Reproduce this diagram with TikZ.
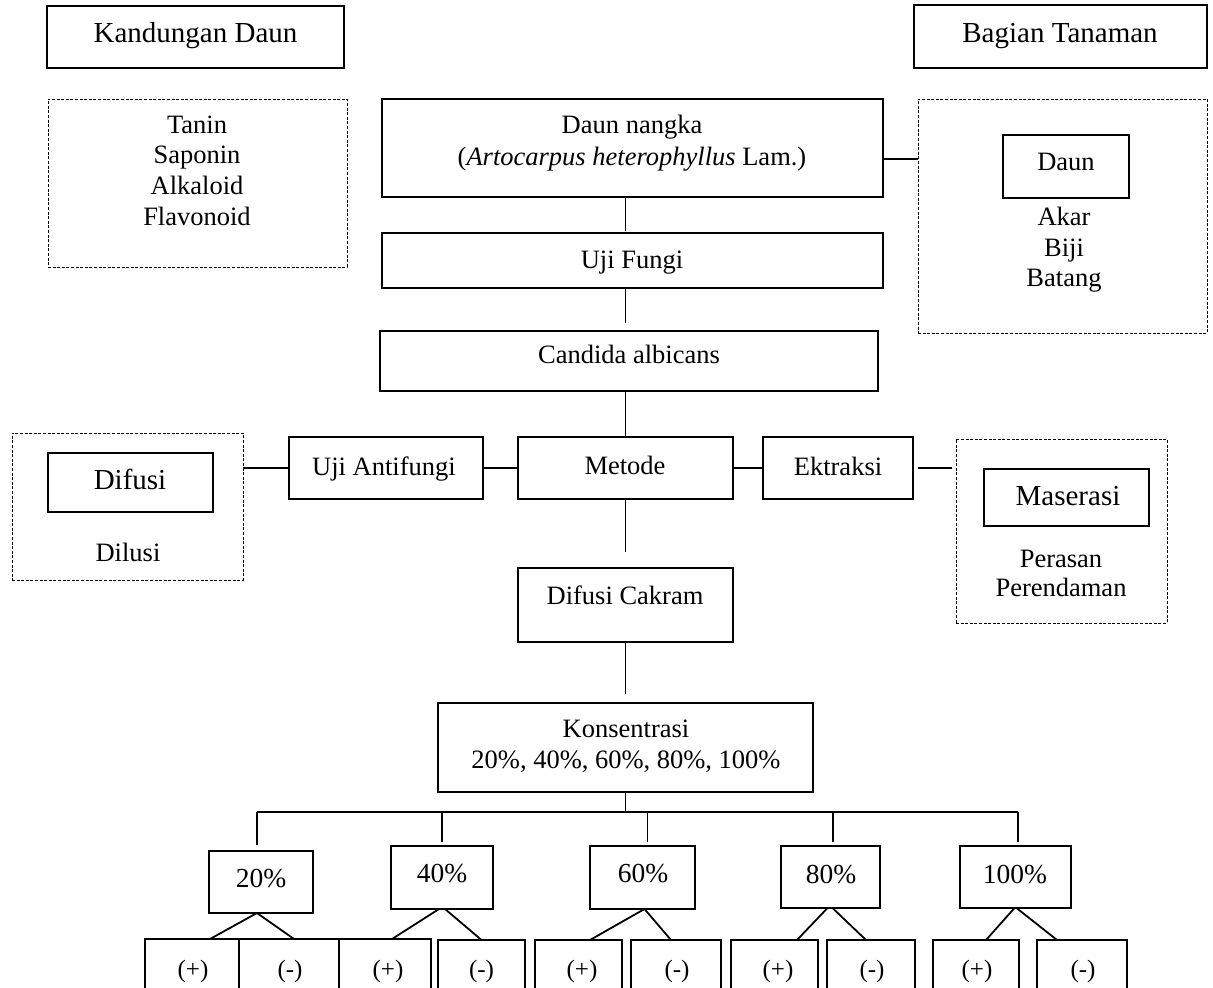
\documentclass[tikz,border=0pt]{standalone}
\usepackage{fontspec}
\setmainfont{Liberation Serif}
\begin{document}
\begin{tikzpicture}[x=1pt,y=-1pt,
  box/.style={draw, line width=1.1pt, anchor=north west, inner sep=0pt, outer sep=0pt},
  hbox/.style={box, line width=1.4pt},
  tbox/.style={box, line width=1.8pt},
  dbox/.style={box, line width=0.9pt, dash pattern=on 3pt off 1.6pt},
  link/.style={line width=1.8pt},
  t/.style={anchor=base, inner sep=0pt, font=\fontsize{26.5}{30}\selectfont},
  tb/.style={t, font=\fontsize{29}{33}\selectfont},
  tp/.style={t, font=\fontsize{27.5}{30}\selectfont},
  ts/.style={t, font=\fontsize{25}{30}\selectfont}]
\useasboundingbox (0,0) rectangle (1213,988);
\clip (0,0) rectangle (1213,988);

% header boxes
\node[hbox, minimum width=297pt, minimum height=62pt] (kd) at (47,6) {};
\node[hbox, minimum width=293pt, minimum height=63pt] (bt) at (914,5) {};
\node[tb] (kdt) at (195.5,42) {Kandungan Daun};
\node[tb] (btt) at (1060,42) {Bagian Tanaman};

% left dashed box
\node[dbox, minimum width=299pt, minimum height=168pt] (tan) at (48,99) {};
\node[t] (t1) at (197,133) {Tanin};
\node[t] (t2) at (197,163) {Saponin};
\node[t] (t3) at (197,194) {Alkaloid};
\node[t] (t4) at (197,225) {Flavonoid};

% main column
\node[box, minimum width=501pt, minimum height=98pt] (dn) at (382,99) {};
\node[t] (dnt1) at (632,133) {Daun nangka};
\node[t] (dnt2) at (632,165) {(\textit{Artocarpus heterophyllus} Lam.)};
\node[box, minimum width=501pt, minimum height=55pt] (uf) at (382,233) {};
\node[t] (uft) at (632,268) {Uji Fungi};
\node[box, minimum width=498pt, minimum height=60pt] (ca) at (380,331) {};
\node[t] (cat) at (629,363) {Candida albicans};

% right dashed box
\node[dbox, minimum width=289pt, minimum height=234pt] (bag) at (918,99) {};
\node[box, minimum width=126pt, minimum height=63pt] (daun) at (1003,135) {};
\node[t] (daunt) at (1066,170) {Daun};
\node[t] (b1t) at (1064,225) {Akar};
\node[t] (b2t) at (1064,256) {Biji};
\node[t] (b3t) at (1064,286) {Batang};

% method row
\node[box, minimum width=194pt, minimum height=62pt] (ua) at (289,437) {};
\node[t] (uat) at (384,475) {Uji Antifungi};
\node[box, minimum width=215pt, minimum height=62pt] (me) at (518,437) {};
\node[t] (met) at (625,474) {Metode};
\node[box, minimum width=150pt, minimum height=62pt] (ek) at (763,437) {};
\node[t] (ekt) at (838,475) {Ektraksi};

\node[dbox, minimum width=231pt, minimum height=147pt] (dif) at (12,433) {};
\node[box, minimum width=165pt, minimum height=59pt] (difi) at (48,453) {};
\node[tb] (dift) at (130,489) {Difusi};
\node[t] (dilt) at (128,561) {Dilusi};

\node[dbox, minimum width=211pt, minimum height=184pt] (mas) at (956,439) {};
\node[box, minimum width=165pt, minimum height=57pt] (masi) at (984,469) {};
\node[tb] (mast) at (1068,505) {Maserasi};
\node[t] (pert) at (1061,567) {Perasan};
\node[t] (prdt) at (1061,596) {Perendaman};

% lower column
\node[box, minimum width=215pt, minimum height=74pt] (dc) at (518,568) {};
\node[t] (dct) at (625,604) {Difusi Cakram};
\node[box, minimum width=375pt, minimum height=89pt] (ko) at (438,703) {};
\node[t] (kot1) at (626,737) {Konsentrasi};
\node[t] (kot2) at (626,768) {20\%, 40\%, 60\%, 80\%, 100\%};

% percentage boxes
\node[box, minimum width=104pt, minimum height=62pt] (p20) at (209,851) {};
\node[box, minimum width=102pt, minimum height=63pt] (p40) at (391,846) {};
\node[box, minimum width=105pt, minimum height=63pt] (p60) at (590,846) {};
\node[box, minimum width=99pt, minimum height=62pt] (p80) at (781,846) {};
\node[box, minimum width=111pt, minimum height=62pt] (p100) at (960,846) {};
\node[tp] (p20t) at (261,887) {20\%};
\node[tp] (p40t) at (442,882) {40\%};
\node[tp] (p60t) at (643,882) {60\%};
\node[tp] (p80t) at (831,883) {80\%};
\node[tp] (p100t) at (1015,883) {100\%};

% result boxes
\node[tbox, minimum width=94pt, minimum height=70pt] (b1) at (145,939) {};
\node[tbox, minimum width=100pt, minimum height=70pt] (b2) at (239,939) {};
\node[tbox, minimum width=92pt, minimum height=70pt] (b3) at (339,939) {};
\node[box, minimum width=87pt, minimum height=70pt] (b4) at (438,940) {};
\node[box, minimum width=87pt, minimum height=70pt] (b5) at (535,940) {};
\node[box, minimum width=90pt, minimum height=70pt] (b6) at (631,940) {};
\node[box, minimum width=87pt, minimum height=70pt] (b7) at (731,940) {};
\node[box, minimum width=88pt, minimum height=70pt] (b8) at (827,940) {};
\node[box, minimum width=86pt, minimum height=70pt] (b9) at (933,940) {};
\node[box, minimum width=90pt, minimum height=70pt] (b10) at (1037,940) {};
\node[ts] at (193,977) {(+)};
\node[ts] at (290,977) {(-)};
\node[ts] at (388,977) {(+)};
\node[ts] at (481.5,977) {(-)};
\node[ts] at (582,977) {(+)};
\node[ts] at (677,977) {(-)};
\node[ts] at (778,977) {(+)};
\node[ts] at (872,977) {(-)};
\node[ts] at (977,977) {(+)};
\node[ts] at (1083,977) {(-)};

% connectors
\draw[link] ([yshift=-11pt]dn.east) -- ([yshift=-11pt]dn.east -| bag.west);
\draw[link] (dn.south -| me.north) -- ([yshift=2pt]uf.north -| me.north);
\draw[link] (uf.south -| me.north) -- ([yshift=8pt]ca.north -| me.north);
\draw[link] (ca.south -| me.north) -- (me.north);
\draw[link] (me.south) -- ([yshift=16pt]dc.north);
\draw[link] (dc.south) -- ([yshift=9pt]ko.north -| dc.south);
\draw[link] (dif.east |- ua.west) -- (ua.west);
\draw[link] (ua.east) -- (me.west);
\draw[link] (me.east) -- (ek.west);
\draw[link] ([xshift=5pt]ek.east) -- ([xshift=-4pt]ek.east -| mas.west);

\coordinate (barL) at (257,812);
\coordinate (barR) at (1018,812);
\draw[link] (ko.south -| dc.south) -- (dc.south |- barL);
\draw[link] (barL) -- (barR);
\draw[link] (barL) -- ([yshift=6pt]p20.north -| barL);
\draw[link] (p40.north |- barL) -- ([yshift=4pt]p40.north);
\draw[link] ([xshift=5pt]p60.north |- barL) -- ([xshift=5pt,yshift=4pt]p60.north);
\draw[link] ([xshift=2.5pt]p80.north |- barL) -- ([xshift=2.5pt,yshift=4pt]p80.north);
\draw[link] (barR) -- ([yshift=4pt]p100.north -| barR);

\draw[link] ([xshift=-4pt]p20.south) -- ([xshift=18pt]b1.north);
\draw[link] ([xshift=-4pt]p20.south) -- ([xshift=5pt]b2.north);
\draw[link] ([xshift=-3pt]p40.south) -- ([xshift=7pt]b3.north);
\draw[link] ([xshift=3pt]p40.south) -- (b4.north);
\draw[link] ([xshift=2pt]p60.south) -- ([xshift=11.5pt]b5.north);
\draw[link] ([xshift=2pt]p60.south) -- ([xshift=-5pt]b6.north);
\draw[link] ([xshift=-3pt]p80.south) -- ([xshift=22.5pt]b7.north);
\draw[link] ([xshift=2pt]p80.south) -- ([xshift=-5pt]b8.north);
\draw[link] ([xshift=-1pt]p100.south) -- ([xshift=10pt]b9.north);
\draw[link] ([xshift=1pt]p100.south) -- ([xshift=-25pt]b10.north);
\end{tikzpicture}
\end{document}
